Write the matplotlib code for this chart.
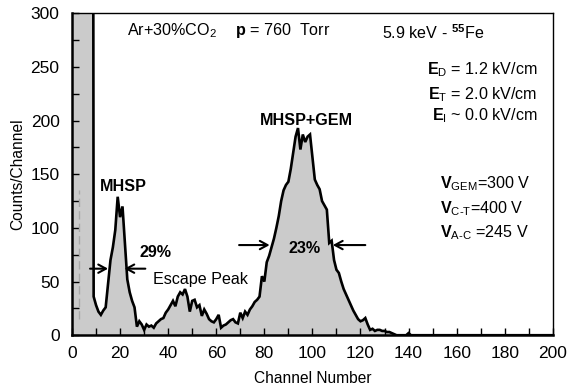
import matplotlib

matplotlib.use("Agg")
import matplotlib.pyplot as plt
import numpy as np

# pulse-height spectrum, counts per channel
channels = np.arange(0, 201)
counts_0_59 = [
    2000, 2000, 2000, 2000, 2000, 2000, 2000, 2000, 2000, 36,
    28, 22, 19, 23, 26, 48, 70, 82, 98, 129,
    110, 120, 86, 52, 40, 32, 26, 8, 13, 10,
    5, 10, 8, 9, 7, 11, 13, 15, 16, 21,
    24, 28, 32, 27, 36, 40, 38, 43, 36, 22,
    32, 33, 26, 28, 18, 24, 20, 15, 13, 12,
]
counts_60_119 = [
    15, 19, 7, 9, 10, 12, 14, 15, 12, 11,
    21, 16, 22, 19, 24, 27, 31, 33, 36, 55,
    50, 68, 74, 82, 90, 100, 111, 125, 135, 140,
    143, 155, 170, 185, 193, 173, 187, 180, 185, 187,
    166, 145, 140, 136, 125, 121, 117, 86, 88, 70,
    61, 58, 50, 43, 38, 33, 28, 23, 19, 15,
]
counts_120_200 = [
    13, 14, 16, 10, 5, 6, 4, 5, 5, 4,
    4, 3, 3, 2, 1, 0, 0, 0, 0, 0,
    2, 0, 0, 0, 0, 0, 0, 0, 0, 0,
] + [0] * 51
counts = np.array(counts_0_59 + counts_60_119 + counts_120_200)

# FWHM markers: (y level, left arrow tail, left head, right tail, right head)
fwhm_small = (62, 7.5, 15.0, 30.5, 21.8)
fwhm_big = (84, 69.5, 82.2, 122.0, 108.5)

plt.rcParams["font.family"] = ["Liberation Sans", "DejaVu Sans"]
plt.rcParams["mathtext.fontset"] = "custom"
plt.rcParams["mathtext.rm"] = "Liberation Sans"
plt.rcParams["mathtext.bf"] = "Liberation Sans:bold"
plt.rcParams["mathtext.it"] = "Liberation Sans:italic"

fig = plt.figure(figsize=(5.67, 3.88), dpi=100)
ax = fig.add_axes([0.127, 0.136, 0.848, 0.830])

ax.fill_between(channels, counts, 0, color="#cbcbcb", linewidth=0)
ax.plot(channels, counts, color="black", linewidth=1.9, solid_joinstyle="miter")
ax.plot([3, 3], [15, 135], color="#a8a8a8", linewidth=1.0, linestyle=(0, (6, 3)))

for y, lt, lh, rt, rh in (fwhm_small, fwhm_big):
    kw = dict(arrowstyle="->,head_length=0.55,head_width=0.3", color="black",
              lw=1.5, shrinkA=0, shrinkB=0)
    ax.annotate("", xy=(lh, y), xytext=(lt, y), arrowprops=kw)
    ax.annotate("", xy=(rh, y), xytext=(rt, y), arrowprops=kw)

ax.set_xlim(0, 200)
ax.set_ylim(0, 300)
ax.set_xticks(np.arange(0, 201, 20))
ax.set_xticks(np.arange(0, 201, 10), minor=True)
ax.set_yticks(np.arange(0, 301, 50))
ax.set_yticks(np.arange(0, 301, 25), minor=True)
ax.tick_params(which="both", direction="in", length=5, width=1, labelsize=12.5)
ax.tick_params(axis="x", pad=8)
ax.tick_params(axis="y", pad=9)
for s in ax.spines.values():
    s.set_linewidth(1.0)
ax.spines["bottom"].set_linewidth(1.8)
ax.spines["left"].set_linewidth(1.8)

ax.set_xlabel("Channel Number", fontsize=11.2, labelpad=7)
ax.set_ylabel("Counts/Channel", fontsize=11.2, labelpad=4)

fs = 11.6
ax.text(23, 284, r"Ar+30%CO$_2$", fontsize=fs, va="center")
ax.text(68, 284, r"$\mathbf{p}$ = 760  Torr", fontsize=fs, va="center")
ax.text(129, 282, r"5.9 keV - $^{\mathbf{55}}$Fe", fontsize=fs, va="center")
ax.text(193.5, 247, r"$\mathbf{E}_\mathrm{D}$ = 1.2 kV/cm", fontsize=fs, ha="right", va="center")
ax.text(193.5, 224, r"$\mathbf{E}_\mathrm{T}$ = 2.0 kV/cm", fontsize=fs, ha="right", va="center")
ax.text(193.5, 205, r"$\mathbf{E}_\mathrm{I}$ ~ 0.0 kV/cm", fontsize=fs, ha="right", va="center")
ax.text(153, 141, r"$\mathbf{V}_\mathrm{GEM}$=300 V", fontsize=fs, va="center")
ax.text(153, 118, r"$\mathbf{V}_\mathrm{C\text{-}T}$=400 V", fontsize=fs, va="center")
ax.text(153, 96, r"$\mathbf{V}_\mathrm{A\text{-}C}$ =245 V", fontsize=fs, va="center")

ax.text(97.7, 200, "MHSP+GEM", fontsize=fs, fontweight="bold", ha="center", va="center")
ax.text(21.4, 139, "MHSP", fontsize=fs, fontweight="bold", ha="center", va="center")
ax.text(34.6, 77, "29%", fontsize=fs, fontweight="bold", ha="center", va="center")
ax.text(96.9, 81, "23%", fontsize=fs, fontweight="bold", ha="center", va="center")
ax.text(53.3, 52, "Escape Peak", fontsize=fs, ha="center", va="center")

fig.savefig("out.png", dpi=100)
